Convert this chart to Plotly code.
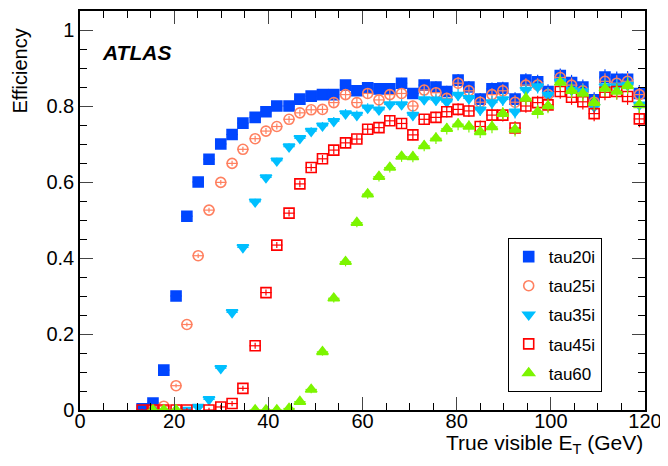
import plotly.graph_objects as go

# bin centres (GeV)
et = [13.2, 15.5, 17.8, 20.4, 22.7, 25.1, 27.4, 29.9, 32.3, 34.6,
      37.2, 39.5, 41.8, 44.4, 46.7, 49.1, 51.5, 53.9, 56.4, 58.8,
      61.1, 63.5, 65.8, 68.3, 70.7, 73.1, 75.6, 77.9, 80.3, 82.6,
      85.0, 87.5, 89.8, 92.4, 94.7, 97.2, 99.4, 102.0, 104.4, 106.8,
      109.2, 111.5, 114.0, 116.3, 118.8]

tau20i = [0.003, 0.018, 0.105, 0.30, 0.51, 0.60, 0.66, 0.70, 0.725, 0.755,
          0.77, 0.785, 0.80, 0.80, 0.818, 0.826, 0.83, 0.83, 0.855, 0.84,
          0.848, 0.845, 0.845, 0.86, 0.833, 0.855, 0.85, 0.838, 0.868, 0.85,
          0.818, 0.845, 0.847, 0.818, 0.868, 0.864, 0.838, 0.88, 0.862, 0.85,
          0.816, 0.876, 0.87, 0.87, 0.833]

tau25i = [None, 0.0, 0.01, 0.064, 0.225, 0.406, 0.526, 0.599, 0.649, 0.686,
          0.714, 0.734, 0.746, 0.765, 0.782, 0.79, 0.791, 0.809, 0.83, 0.809,
          0.833, 0.816, 0.83, 0.833, 0.80, 0.842, 0.835, 0.82, 0.86, 0.84,
          0.81, 0.83, 0.84, 0.81, 0.855, 0.855, 0.83, 0.875, 0.855, 0.84,
          0.81, 0.865, 0.86, 0.865, 0.83]

tau35i = [None, None, None, None, 0.0, 0.008, 0.028, 0.11, 0.257, 0.428,
          0.548, 0.612, 0.656, 0.693, 0.715, 0.734, 0.748, 0.76, 0.78, 0.776,
          0.795, 0.79, 0.804, 0.804, 0.776, 0.817, 0.816, 0.811, 0.829, 0.82,
          0.79, 0.809, 0.817, 0.785, 0.842, 0.851, 0.829, 0.864, 0.842, 0.838,
          0.798, 0.851, 0.851, 0.855, 0.803]

tau45i = [0.0, 0.0, 0.0, 0.0, 0.0, None, 0.0, 0.008, 0.017, 0.057,
          0.169, 0.309, 0.434, 0.518, 0.595, 0.638, 0.661, 0.684, 0.703, 0.713,
          0.739, 0.743, 0.761, 0.754, 0.724, 0.765, 0.77, 0.785, 0.791, 0.787,
          0.746, 0.776, 0.776, 0.742, 0.80, 0.809, 0.803, 0.838, 0.823, 0.811,
          0.78, 0.836, 0.838, 0.825, 0.766]

tau60 = [None, 0.0, 0.0, 0.0, None, None, None, None, None, None,
         0.0, 0.0, 0.0, 0.004, 0.022, 0.054, 0.153, 0.294, 0.39, 0.493,
         0.568, 0.614, 0.638, 0.667, 0.666, 0.695, 0.715, 0.74, 0.752, 0.746,
         0.732, 0.745, 0.78, 0.738, 0.82, 0.785, 0.80, 0.862, 0.84, 0.833,
         0.809, 0.846, 0.838, 0.853, 0.803]

# statistical error per bin (approximate)
err_y = [0.003, 0.003, 0.004, 0.005, 0.005, 0.006, 0.006, 0.006, 0.007, 0.007,
         0.008, 0.008, 0.008, 0.009, 0.009, 0.010, 0.010, 0.011, 0.012, 0.012,
         0.012, 0.013, 0.013, 0.014, 0.014, 0.014, 0.015, 0.015, 0.016, 0.016,
         0.016, 0.017, 0.017, 0.018, 0.018, 0.018, 0.019, 0.019, 0.020, 0.020,
         0.020, 0.021, 0.021, 0.022, 0.022]
half_bin = 1.2

series = [
    ('tau20i', tau20i, 'square', '#0046ff'),
    ('tau25i', tau25i, 'circle-open', '#ff8060'),
    ('tau35i', tau35i, 'triangle-down', '#00bfff'),
    ('tau45i', tau45i, 'square-open', '#ff0000'),
    ('tau60', tau60, 'triangle-up', '#7cf500'),
]

fig = go.Figure()
for name, vals, sym, col in series:
    fig.add_trace(go.Scatter(
        x=et, y=vals, mode='markers', name=name, legendgroup=name,
        marker=dict(symbol=sym, size=10, color=col, line=dict(color=col, width=1.6)),
        error_x=dict(type='constant', value=half_bin, color=col, thickness=1.2, width=0),
        error_y=dict(type='data', array=err_y, color=col, thickness=1.2, width=0),
    ))

font_fam = 'Liberation Sans, Arial, sans-serif'
axis_font = dict(family=font_fam, size=20, color='black')

# page body has an 8px margin, so the figure is a bit smaller than the window
fig.update_layout(
    width=660, height=458,
    margin=dict(l=72, r=23, t=3, b=56),
    paper_bgcolor='white', plot_bgcolor='white',
    font=axis_font,
    showlegend=True,
    legend=dict(x=0.757, y=0.431, xanchor='left', yanchor='top',
                bordercolor='black', borderwidth=1, bgcolor='white',
                font=dict(family=font_fam, size=17),
                tracegroupgap=4, itemwidth=30),
    xaxis=dict(range=[0, 120], dtick=20, ticks='inside', ticklen=13, tickwidth=1.3,
               showline=True, linecolor='black', linewidth=1.5, mirror='ticks',
               showgrid=False, zeroline=False, tickfont=axis_font, automargin=False,
               ticklabelstandoff=-8,
               minor=dict(dtick=5, ticks='inside', ticklen=7, tickwidth=1.3,
                          tickcolor='black', showgrid=False)),
    yaxis=dict(range=[0, 1.05], dtick=0.2, ticks='inside', ticklen=13, tickwidth=1.3,
               showline=True, linecolor='black', linewidth=1.5, mirror='ticks',
               showgrid=False, zeroline=False, tickfont=axis_font, automargin=False,
               minor=dict(dtick=0.05, ticks='inside', ticklen=7, tickwidth=1.3,
                          tickcolor='black', showgrid=False)),
    annotations=[
        dict(text='True visible E<sub>T</sub> (GeV)', xref='paper', yref='paper',
             x=1.0, y=-0.086, xanchor='right', yanchor='middle', showarrow=False,
             font=dict(family=font_fam, size=21)),
        dict(text='Efficiency', xref='paper', yref='paper', textangle=-90,
             x=-0.106, y=0.96, xanchor='center', yanchor='top', showarrow=False,
             font=dict(family=font_fam, size=20)),
        dict(text='<b><i>ATLAS</i></b>', xref='paper', yref='paper',
             x=0.035, y=0.895, xanchor='left', yanchor='middle', showarrow=False,
             font=dict(family=font_fam, size=21)),
    ],
)

fig.write_html("out.html")
